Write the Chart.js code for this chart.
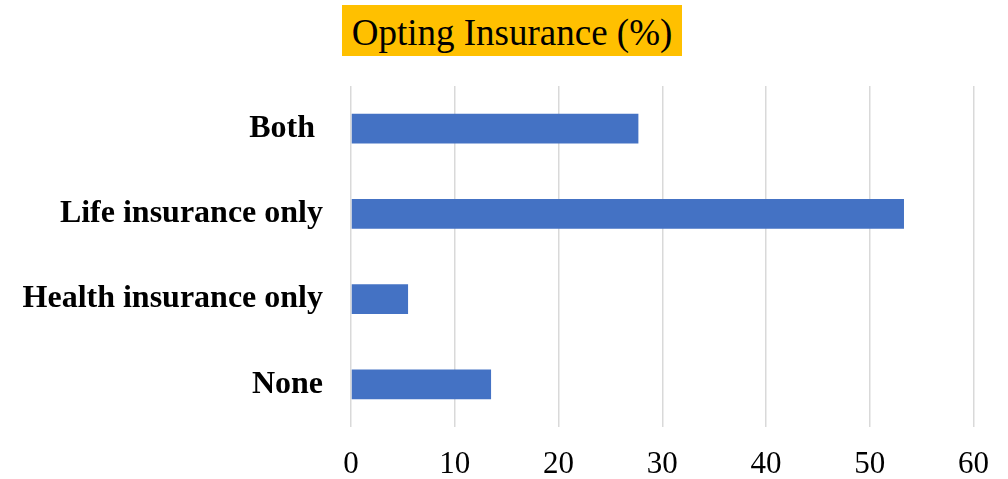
<!DOCTYPE html>
<html>
<head>
<meta charset="utf-8">
<script src="https://cdn.jsdelivr.net/npm/chart.js@4/dist/chart.umd.min.js"></script>
<style>
    html, body { margin: 0; padding: 0; background: #fff; }
    #wrap { position: relative; width: 1008px; height: 479px; }
    #titulo {
        position: absolute; left: 342px; top: 5px; width: 340px; height: 51px;
        background: #FFC000; color: #000;
        font-family: "Liberation Serif", "Times New Roman", serif; font-size: 37px;
        line-height: 56px; text-align: center; white-space: nowrap;
    }
</style>
</head>
<body>
<div id="wrap">
    <div id="titulo">Opting Insurance (%)</div>
    <canvas id="grafico" width="1008" height="479"></canvas>
</div>
<script>
const categorias = ['Both ', 'Life insurance only', 'Health insurance only', 'None'];
const percentuais = [27.7, 53.3, 5.5, 13.5];
const ticksX = [0, 10, 20, 30, 40, 50, 60];

const serif = '"Liberation Serif", "Times New Roman", serif';

const ctx = document.getElementById('grafico').getContext('2d');
const grafico = new Chart(ctx, {
    type: 'bar',
    data: {
        labels: categorias,
        datasets: [{
            data: percentuais,
            backgroundColor: '#4472C4',
            borderWidth: 0,
            barPercentage: 0.35,
            categoryPercentage: 1.0
        }]
    },
    options: {
        indexAxis: 'y',
        responsive: false,
        animation: false,
        layout: { padding: { top: 86, right: 33, bottom: 0, left: 0 } },
        plugins: {
            legend: { display: false },
            title: { display: false },
            tooltip: { enabled: false }
        },
        scales: {
            x: {
                min: ticksX[0],
                max: ticksX[ticksX.length - 1],
                afterBuildTicks: (scale) => { scale.ticks = ticksX.map(v => ({ value: v })); },
                afterFit: (scale) => { scale.height = 52; },
                grid: { color: '#d9d9d9', lineWidth: 1.5, drawTicks: false },
                border: { display: false },
                ticks: { color: '#000', padding: 19, font: { family: serif, size: 31 } }
            },
            y: {
                afterFit: (scale) => { scale.width = 351; },
                grid: { display: false, drawTicks: false },
                border: { display: false },
                ticks: {
                    color: '#000', padding: 28,
                    font: { family: serif, size: 32, weight: 'bold', lineHeight: 1.1 }
                }
            }
        }
    }
});
</script>
</body>
</html>
